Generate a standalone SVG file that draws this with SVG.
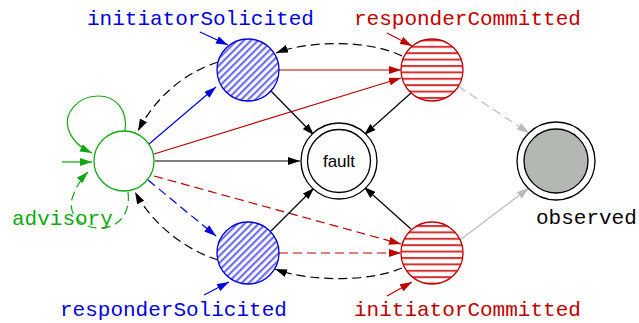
<svg xmlns="http://www.w3.org/2000/svg" width="639" height="323" viewBox="0 0 639 323">
  <style>
    .lbl { font-family: "Liberation Mono", "DejaVu Sans Mono", monospace; font-size: 21px; }
    .edge { fill: none; stroke-width: 1.2; }
    .dash { stroke-dasharray: 9,5; }
    .k { stroke: #000; }
    .b { stroke: #0000e0; }
    .r { stroke: #c00000; }
    .g { stroke: #11a811; }
    .gr { stroke: #b8bcb8; }
  </style>
  <defs>
    <marker id="ak" markerWidth="12" markerHeight="8" refX="12" refY="4" orient="auto" markerUnits="userSpaceOnUse"><path d="M0,0 L12,4 L0,8 z" fill="#000"/></marker>
    <marker id="ab" markerWidth="12" markerHeight="8" refX="12" refY="4" orient="auto" markerUnits="userSpaceOnUse"><path d="M0,0 L12,4 L0,8 z" fill="#0000e0"/></marker>
    <marker id="ar" markerWidth="12" markerHeight="8" refX="12" refY="4" orient="auto" markerUnits="userSpaceOnUse"><path d="M0,0 L12,4 L0,8 z" fill="#c00000"/></marker>
    <marker id="ag" markerWidth="12" markerHeight="8" refX="12" refY="4" orient="auto" markerUnits="userSpaceOnUse"><path d="M0,0 L12,4 L0,8 z" fill="#11a811"/></marker>
    <marker id="agr" markerWidth="12" markerHeight="8" refX="12" refY="4" orient="auto" markerUnits="userSpaceOnUse"><path d="M0,0 L12,4 L0,8 z" fill="#b8bcb8"/></marker>
    <pattern id="diag" width="5" height="5" patternUnits="userSpaceOnUse" patternTransform="rotate(-45)">
      <rect width="5" height="5" fill="#fff"/>
      <rect width="5" height="2.2" fill="#6f6ff0"/>
    </pattern>
    <pattern id="horiz" x="0" y="1" width="8" height="6.4" patternUnits="userSpaceOnUse">
      <rect width="8" height="6.4" fill="#fff"/>
      <rect width="8" height="2" fill="#d83030"/>
    </pattern>
  </defs>

  <g id="connectors">
    <!-- advisory loops and entry -->
    <path class="edge g" d="M125,131 C128,110 116,96 98,96 C78,96 64,113 68,128 C71,139 79,147 92,153" marker-end="url(#ag)"/>
    <path class="edge g" d="M62,162 L92,162" marker-end="url(#ag)"/>
    <path class="edge g dash" d="M128,192 C131,214 118,228 100,228 C80,228 68,214 72,199 C75,189 80,180 88,172" marker-end="url(#ag)"/>

    <!-- label pointers -->
    <path class="edge b" d="M200,32 L228,45" marker-end="url(#ab)"/>
    <path class="edge r" d="M387,33 L412,46" marker-end="url(#ar)"/>
    <path class="edge b" d="M204,295 L229,282" marker-end="url(#ab)"/>
    <path class="edge r" d="M387,296 L412,282" marker-end="url(#ar)"/>

    <!-- advisory outgoing -->
    <path class="edge b" d="M149,144 L216,87" marker-end="url(#ab)"/>
    <path class="edge b dash" d="M148,180 L216,236" marker-end="url(#ab)"/>
    <path class="edge r" d="M154,154 L401,78" marker-end="url(#ar)"/>
    <path class="edge r dash" d="M154,176 L401,244" marker-end="url(#ar)"/>
    <path class="edge k" d="M155,161 L300,161" marker-end="url(#ak)"/>

    <!-- returns to advisory -->
    <path class="edge k dash" d="M218,62 C186,72 156,96 138,131" marker-end="url(#ak)"/>
    <path class="edge k dash" d="M218,260 C186,250 153,225 135,192" marker-end="url(#ak)"/>

    <!-- solicited to committed -->
    <path class="edge r" d="M279,70 L401,70" marker-end="url(#ar)"/>
    <path class="edge r dash" d="M279,253 L401,253" marker-end="url(#ar)"/>
    <path class="edge k dash" d="M402,56 C370,40 310,40 276,53" marker-end="url(#ak)"/>
    <path class="edge k dash" d="M402,268 C370,282 310,282 275,269" marker-end="url(#ak)"/>

    <!-- to fault -->
    <path class="edge k" d="M271,91 L314,135" marker-end="url(#ak)"/>
    <path class="edge k" d="M411,93 L364,135" marker-end="url(#ak)"/>
    <path class="edge k" d="M271,231 L314,188" marker-end="url(#ak)"/>
    <path class="edge k" d="M411,229 L364,187" marker-end="url(#ak)"/>

    <!-- to observed -->
    <path class="edge gr dash" d="M458,86 L529,133" marker-end="url(#agr)"/>
    <path class="edge gr" d="M460,240 L529,188" marker-end="url(#agr)"/>
  </g>

  <g id="advisory">
    <circle cx="124" cy="161" r="30" fill="#fff" stroke="#11a811" stroke-width="1.3"/>
    <text class="lbl" x="12" y="225" fill="#11a811">advisory</text>
  </g>

  <g id="initiatorSolicited">
    <circle cx="248" cy="70" r="31" fill="url(#diag)" stroke="#0000e0" stroke-width="1.3"/>
    <text class="lbl" x="87" y="25" fill="#0000e0">initiatorSolicited</text>
  </g>

  <g id="responderSolicited">
    <circle cx="248" cy="253" r="31" fill="url(#diag)" stroke="#0000e0" stroke-width="1.3"/>
    <text class="lbl" x="60" y="316" fill="#0000e0">responderSolicited</text>
  </g>

  <g id="responderCommitted">
    <circle cx="432" cy="70" r="31" fill="url(#horiz)" stroke="#c00000" stroke-width="1.3"/>
    <text class="lbl" x="354" y="25" fill="#c00000">responderCommitted</text>
  </g>

  <g id="initiatorCommitted">
    <circle cx="432" cy="253" r="31" fill="url(#horiz)" stroke="#c00000" stroke-width="1.3"/>
    <text class="lbl" x="354" y="316" fill="#c00000">initiatorCommitted</text>
  </g>

  <g id="fault">
    <circle cx="339" cy="161" r="38" fill="#fff" stroke="#000" stroke-width="1.3"/>
    <circle cx="339" cy="161" r="31.5" fill="#fff" stroke="#000" stroke-width="1.3"/>
    <text x="339" y="167" text-anchor="middle" font-family="Liberation Sans, Arial, sans-serif" font-size="17" fill="#000">fault</text>
  </g>

  <g id="observed">
    <circle cx="556" cy="161" r="39" fill="#fff" stroke="#000" stroke-width="1.3"/>
    <circle cx="556" cy="161" r="32" fill="#b3b8b3" stroke="#000" stroke-width="1.3"/>
    <text class="lbl" x="536" y="224" fill="#000">observed</text>
  </g>
</svg>
